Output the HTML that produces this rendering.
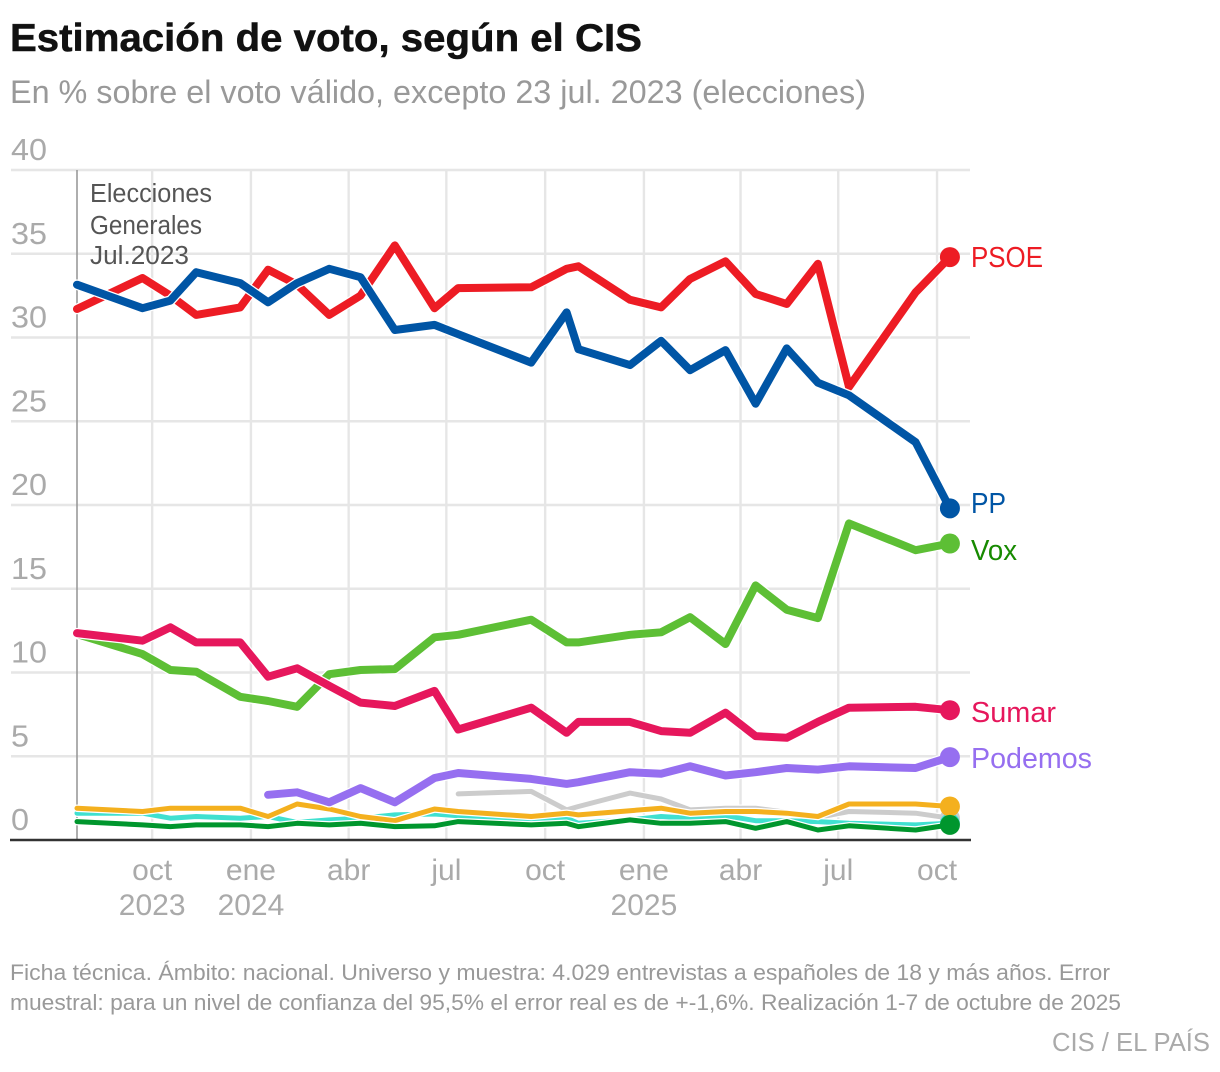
<!DOCTYPE html>
<html lang="es">
<head>
<meta charset="utf-8">
<title>Estimación de voto, según el CIS</title>
<style>
html,body{margin:0;padding:0;background:#fff;}
svg{display:block;font-family:"Liberation Sans",sans-serif;}
</style>
</head>
<body>
<svg id="chart" width="1220" height="1072" viewBox="0 0 1220 1072" xmlns="http://www.w3.org/2000/svg">
  <text x="10" y="51" font-size="39" font-weight="700" fill="#111" stroke="#111" stroke-width="0.5" textLength="632" lengthAdjust="spacingAndGlyphs">Estimación de voto, según el CIS</text>
  <text x="10" y="103" font-size="32.5" fill="#999" textLength="856" lengthAdjust="spacingAndGlyphs">En % sobre el voto válido, excepto 23 jul. 2023 (elecciones)</text>
  <g id="grid"></g>
  <g id="y-axis"></g>
  <g id="x-axis"></g>
  <g id="annotation">
    <text x="90" y="202" font-size="25.5" fill="#555" textLength="122" lengthAdjust="spacingAndGlyphs">Elecciones</text>
    <text x="90" y="234" font-size="25.5" fill="#555" textLength="112" lengthAdjust="spacingAndGlyphs">Generales</text>
    <text x="90" y="264" font-size="25.5" fill="#555" textLength="99" lengthAdjust="spacingAndGlyphs">Jul.2023</text>
  </g>
  <g id="series"></g>
  <g id="labels"></g>
  <text x="10" y="980" font-size="22.5" fill="#999" textLength="1100" lengthAdjust="spacingAndGlyphs">Ficha técnica. Ámbito: nacional. Universo y muestra: 4.029 entrevistas a españoles de 18 y más años. Error</text>
  <text x="10" y="1010" font-size="22.5" fill="#999" textLength="1111" lengthAdjust="spacingAndGlyphs">muestral: para un nivel de confianza del 95,5% el error real es de +-1,6%. Realización 1-7 de octubre de 2025</text>
  <text x="1052" y="1051" font-size="26" fill="#aaa" textLength="158" lengthAdjust="spacingAndGlyphs">CIS / EL PAÍS</text>
</svg>
<script>
const pollDates = ["2023-07-23","2023-09-22","2023-10-18","2023-11-11","2023-12-22","2024-01-17","2024-02-13","2024-03-14","2024-04-12","2024-05-14","2024-06-20","2024-07-12","2024-09-18","2024-10-21","2024-11-01","2024-12-19","2025-01-17","2025-02-13","2025-03-18","2025-04-15","2025-05-14","2025-06-12","2025-07-11","2025-09-11","2025-10-13"];
const psoeValues = [31.7,33.55,32.5,31.35,31.8,34.05,33.15,31.35,32.5,35.5,31.75,32.95,33.0,34.1,34.25,32.25,31.8,33.5,34.55,32.6,32.0,34.4,27.05,32.7,34.8];
const ppValues = [33.15,31.75,32.2,33.9,33.25,32.1,33.25,34.1,33.6,30.45,30.75,30.2,28.5,31.5,29.3,28.35,29.8,28.05,29.25,26.05,29.35,27.3,26.55,23.75,19.8];
const voxValues = [12.3,11.1,10.15,10.05,8.55,8.3,7.95,9.9,10.15,10.2,12.1,12.25,13.15,11.8,11.8,12.25,12.4,13.3,11.7,15.2,13.75,13.25,18.9,17.3,17.7];
const sumarValues = [12.35,11.9,12.7,11.8,11.8,9.75,10.25,9.2,8.2,8.0,8.9,6.6,7.9,6.4,7.05,7.05,6.5,6.4,7.6,6.2,6.1,7.05,7.9,7.95,7.75];
const podemosValues = [null,null,null,null,null,2.7,2.85,2.25,3.1,2.25,3.7,4.0,3.65,3.35,3.45,4.05,3.95,4.4,3.85,4.05,4.3,4.2,4.4,4.3,4.95];
const grayValues = [null,null,null,null,null,null,null,null,null,null,null,2.75,2.9,1.8,2.0,2.8,2.45,1.8,1.9,1.9,1.65,1.35,1.7,1.6,1.3];
const tealValues = [1.6,1.6,1.3,1.4,1.3,1.4,1.05,1.2,1.3,1.5,1.55,1.45,1.1,1.3,1.0,1.2,1.4,1.3,1.45,1.15,1.15,1.1,1.0,0.9,1.0];
const orangeValues = [1.9,1.7,1.9,1.9,1.9,1.4,2.15,1.85,1.4,1.15,1.85,1.7,1.4,1.6,1.5,1.75,1.9,1.6,1.7,1.7,1.6,1.4,2.15,2.15,2.0];
const greenValues = [1.1,0.9,0.8,0.9,0.9,0.8,1.0,0.9,1.0,0.8,0.85,1.1,0.9,1.0,0.8,1.2,1.0,1.0,1.1,0.7,1.1,0.6,0.85,0.6,0.9];
const yTicks = [0,5,10,15,20,25,30,35,40];
const xTickDates = ["2023-10-01","2024-01-01","2024-04-01","2024-07-01","2024-10-01","2025-01-01","2025-04-01","2025-07-01","2025-10-01"];
const xTickMonths = ["oct","ene","abr","jul","oct","ene","abr","jul","oct"];
const xTickYears = ["2023","2024","","","","2025","","",""];
const electionDate = "2023-07-23";

const NS = "http://www.w3.org/2000/svg";
const DAY = 86400000;
const x0 = Date.parse(electionDate);
function xScale(date){ return 77 + (Date.parse(date) - x0) / DAY * 1.0737; }
function yScale(v){ return 840 - v * 16.75; }
function make(tag, attrs, parent){
  const el = document.createElementNS(NS, tag);
  for (const k in attrs) el.setAttribute(k, attrs[k]);
  parent.appendChild(el);
  return el;
}
const grid = document.getElementById("grid");
const yAxis = document.getElementById("y-axis");
const xAxis = document.getElementById("x-axis");
const seriesG = document.getElementById("series");
const labelsG = document.getElementById("labels");

yTicks.forEach(function(t){
  if (t !== 0) {
    const line = make("line", {x1:11, x2:970, y1:yScale(t), y2:yScale(t), stroke:"#e6e6e6", "stroke-width":2.4}, grid);
    
    
  }
  const label = make("text", {x:11, y:yScale(t)-10, "font-size":30.5, fill:"#aaa", textLength:String(t).length * 18, lengthAdjust:"spacingAndGlyphs"}, yAxis);
  
  
  label.textContent = String(t);
});
xTickDates.forEach(function(d, i){
  const x = xScale(d);
  const line = make("line", {x1:x, x2:x, y1:yScale(40), y2:yScale(0), stroke:"#e6e6e6", "stroke-width":2.4}, grid);
  
  
  const month = make("text", {x:x, y:880, "font-size":30, fill:"#aaa", "text-anchor":"middle"}, xAxis);
  
  
  month.textContent = xTickMonths[i];
  if (xTickYears[i]) {
    const year = make("text", {x:x, y:915, "font-size":30, fill:"#aaa", "text-anchor":"middle"}, xAxis);
    
    
    year.textContent = xTickYears[i];
  }
});
const electionLine = make("line", {x1:xScale(electionDate), x2:xScale(electionDate), y1:yScale(40), y2:yScale(0), stroke:"#999", "stroke-width":1.6}, grid);


const baseline = make("line", {x1:10, x2:971, y1:yScale(0), y2:yScale(0), stroke:"#333", "stroke-width":2.4}, grid);



function pathFor(values){
  let d = "";
  values.forEach(function(v, i){
    if (v === null) return;
    d += (d ? "L" : "M") + xScale(pollDates[i]).toFixed(1) + " " + yScale(v).toFixed(1);
  });
  return d;
}
function drawSeries(values, color, width, name){
  const g = make("g", {}, seriesG);
  
  
  const d = pathFor(values);
  make("path", {d:d, fill:"none", stroke:"#fff", "stroke-width":width + 2.5, "stroke-linejoin":"round", "stroke-linecap":"round"}, g);
  make("path", {d:d, fill:"none", stroke:color, "stroke-width":width, "stroke-linejoin":"round", "stroke-linecap":"round"}, g);
  const last = values.length - 1;
  make("circle", {cx:xScale(pollDates[last]), cy:yScale(values[last]), r:10, fill:color}, g);
}
drawSeries(grayValues, "#cccccc", 5, "series-gray");
drawSeries(tealValues, "#40e0d0", 5, "series-teal");
drawSeries(orangeValues, "#f4b01e", 5, "series-orange");
drawSeries(greenValues, "#00962d", 5, "series-dark-green");
drawSeries(podemosValues, "#966ff0", 8, "series-podemos");
drawSeries(voxValues, "#5dbf35", 8, "series-vox");
drawSeries(sumarValues, "#e6175c", 8, "series-sumar");
drawSeries(psoeValues, "#ed1c24", 8, "series-psoe");
drawSeries(ppValues, "#0055a5", 8, "series-pp");

const psoeLabel = make("text", {x:971, y:267, "font-size":28.5, fill:"#ed1c24", textLength:72, lengthAdjust:"spacingAndGlyphs"}, labelsG);


psoeLabel.textContent = "PSOE";
const ppLabel = make("text", {x:971, y:513, "font-size":28.5, fill:"#0055a5", textLength:35, lengthAdjust:"spacingAndGlyphs"}, labelsG);


ppLabel.textContent = "PP";
const voxLabel = make("text", {x:971, y:560, "font-size":28.5, fill:"#178a00", textLength:46, lengthAdjust:"spacingAndGlyphs"}, labelsG);


voxLabel.textContent = "Vox";
const sumarLabel = make("text", {x:971, y:722, "font-size":28.5, fill:"#e6175c", textLength:85, lengthAdjust:"spacingAndGlyphs"}, labelsG);


sumarLabel.textContent = "Sumar";
const podemosLabel = make("text", {x:971, y:768, "font-size":28.5, fill:"#966ff0", textLength:121, lengthAdjust:"spacingAndGlyphs"}, labelsG);


podemosLabel.textContent = "Podemos";
</script>
</body>
</html>
